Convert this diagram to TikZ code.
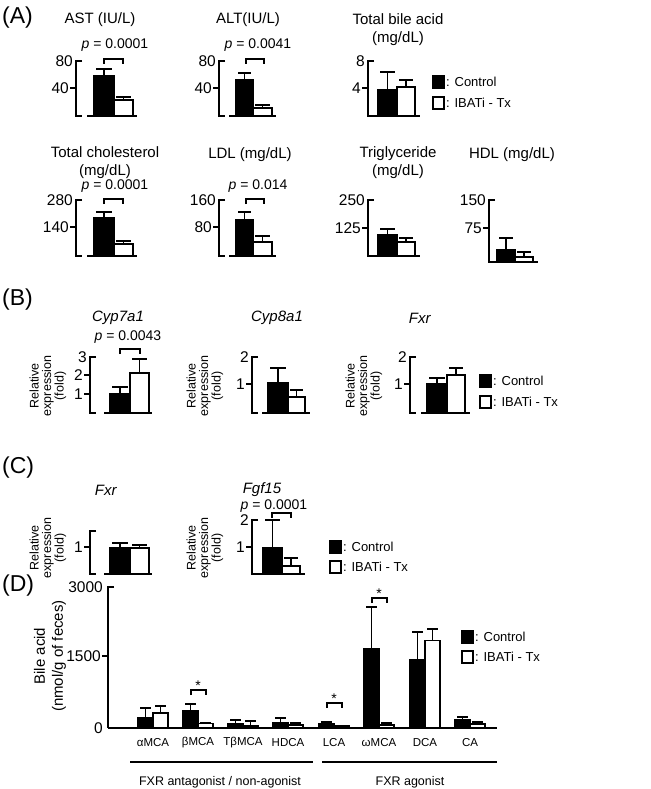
\documentclass[tikz,border=0pt]{standalone}
\usepackage{fontspec}
\setmainfont{Liberation Sans}
\begin{document}
\begin{tikzpicture}[x=1pt,y=-1pt,
  ax/.style={line width=1.9pt},
  lab/.style={font=\fontsize{15.5}{16}\selectfont,inner sep=1pt},
  ttl/.style={font=\fontsize{15}{18}\selectfont,align=center,inner sep=0pt},
  pl/.style={font=\fontsize{14}{16}\selectfont,inner sep=0pt},
  big/.style={font=\fontsize{23}{24}\selectfont,inner sep=0pt,anchor=west},
  rel/.style={font=\fontsize{12.5}{12.5}\selectfont,align=center,rotate=90,inner sep=0pt},
  leg/.style={font=\fontsize{13}{14}\selectfont,anchor=west,inner sep=0pt},
  cat/.style={font=\fontsize{11.5}{13}\selectfont,inner sep=0pt}]
\useasboundingbox (0,0) rectangle (650,789);
\fill[white] (0,0) rectangle (650,789);
% helpers
\newcommand\yax[3]{\draw[ax] (#1+6,#2)--(#1,#2)--(#1,#3)--(#1+6,#3);}
\newcommand\etk[3]{\node[lab,anchor=east] at (#1-2,#2) {#3};}
\newcommand\mtk[3]{\draw[ax] (#1,#2)--(#1-6,#2); \node[lab,anchor=east] at (#1-6,#2) {#3};}
\newcommand\base[3]{\draw[ax] (#1,#3)--(#2,#3);}
\newcommand\bbar[6]{\draw[line width=1.7pt,fill=#6] (#1,#3) rectangle (#2,#4);
  \draw[line width=1.9pt] ({(#1+#2)/2},#4)--({(#1+#2)/2},#5) (#1+2,#5)--(#2-2,#5);}
\newcommand\brk[3]{\draw[line width=1.7pt] (#1,#3+5)--(#1,#3)--(#2,#3)--(#2,#3+5);}
\newcommand\legend[3]{\draw[line width=1.5pt,fill=black] (#1,#2-6) rectangle (#1+11,#2+6);
  \node[leg] at (#1+13,#2) {: Control};
  \draw[line width=1.5pt,fill=white] (#1,#3-6) rectangle (#1+11,#3+6);
  \node[leg] at (#1+13,#3) {: IBATi - Tx};}
% ===== (A) =====
\node[big] (pA) at (2,18) {(A)};
\node[ttl] (t1) at (100,20) {AST (IU/L)};
\node[pl] (p1) at (115,45) {\textit{p} = 0.0001};
\yax{76}{61}{116}\etk{76}{61}{80}\mtk{76}{88}{40}
\base{87}{137}{116}
\bbar{94}{114}{116}{76}{69}{black}\bbar{114}{133}{116}{100}{97}{white}
\brk{104}{123}{59}
\node[ttl] (t2) at (248,20) {ALT(IU/L)};
\node[pl] (p2) at (258,45) {\textit{p} = 0.0041};
\yax{219}{61}{116}\etk{219}{61}{80}\mtk{219}{88}{40}
\base{229}{276}{116}
\bbar{236}{253}{116}{80}{73}{black}\bbar{253}{272}{116}{108}{105}{white}
\brk{246}{264}{59}
\node[ttl] (t3) at (398,30) {Total bile acid\\(mg/dL)};
\yax{368}{61}{116}\etk{368}{61}{8}\mtk{368}{88}{4}
\base{374}{420}{116}
\bbar{378}{397}{116}{90}{72}{black}\bbar{397}{415}{116}{87}{80}{white}
\legend{433}{82}{103}
% row 2
\node[ttl] (t4) at (105,163) {Total cholesterol\\(mg/dL)};
\node[pl] (p4) at (115,186) {\textit{p} = 0.0001};
\yax{76}{200}{256}\etk{76}{200}{280}\mtk{76}{227}{140}
\base{87}{137}{256}
\bbar{94}{114}{256}{218}{212}{black}\bbar{114}{133}{256}{244}{241}{white}
\brk{104}{123}{199}
\node[ttl] (t5) at (250,155) {LDL (mg/dL)};
\node[pl] (p5) at (258,186) {\textit{p} = 0.014};
\yax{219}{200}{256}\etk{219}{200}{160}\mtk{219}{227}{80}
\base{229}{276}{256}
\bbar{236}{253}{256}{220}{212}{black}\bbar{253}{272}{256}{242}{236}{white}
\brk{246}{264}{199}
\node[ttl] (t6) at (398,163) {Triglyceride\\(mg/dL)};
\yax{368}{200}{256}\etk{368}{200}{250}\mtk{368}{228}{125}
\base{374}{420}{256}
\bbar{378}{397}{256}{235}{229}{black}\bbar{397}{415}{256}{242}{238}{white}
\node[ttl] (t7) at (512,155) {HDL (mg/dL)};
\yax{489}{200}{262}\etk{489}{200}{150}\mtk{489}{228}{75}
\base{494}{538}{262}
\bbar{497}{515}{262}{250}{238}{black}\bbar{515}{533}{262}{257}{252}{white}
% ===== (B) =====
\node[big] (pB) at (2,300) {(B)};
\node[ttl] (t8) at (118,318) {\textit{Cyp7a1}};
\node[pl] (p8) at (128,337) {\textit{p} = 0.0043};
\node[rel] (r1) at (48,386) {Relative\\expression\\(fold)};
\yax{90}{357}{413}\etk{90}{357}{3}\mtk{90}{375}{2}\mtk{90}{394}{1}
\base{104}{152}{413}
\bbar{110}{130}{413}{394}{387}{black}\bbar{130}{149}{413}{373}{359}{white}
\brk{120}{140}{349}
\node[ttl] (t9) at (277,318) {\textit{Cyp8a1}};
\node[rel] (r2) at (205,386) {Relative\\expression\\(fold)};
\yax{252}{357}{413}\etk{252}{357}{2}\mtk{252}{384}{1}
\base{262}{310}{413}
\bbar{268}{288}{413}{383}{368}{black}\bbar{288}{305}{413}{397}{390}{white}
\node[ttl] (t10) at (420,318) {\textit{Fxr}};
\node[rel] (r3) at (364,386) {Relative\\expression\\(fold)};
\yax{410}{357}{413}\etk{410}{357}{2}\mtk{410}{384}{1}
\base{421}{470}{413}
\bbar{427}{447}{413}{384}{378}{black}\bbar{447}{465}{413}{375}{368}{white}
\legend{480}{381}{402}
% ===== (C) =====
\node[big] (pC) at (2,468) {(C)};
\node[ttl] (t11) at (106,490) {\textit{Fxr}};
\node[rel] (r4) at (48,548) {Relative\\expression\\(fold)};
\yax{90}{531}{574}\mtk{90}{547}{1}
\base{104}{152}{574}
\bbar{110}{130}{574}{548}{543}{black}\bbar{130}{149}{574}{548}{545}{white}
\node[ttl] (t12) at (262,490) {\textit{Fgf15}};
\node[pl] (p12) at (274,506) {\textit{p} = 0.0001};
\node[rel] (r5) at (205,548) {Relative\\expression\\(fold)};
\yax{252}{520}{574}\etk{252}{520}{2}\mtk{252}{547}{1}
\base{257}{305}{574}
\bbar{263}{282}{574}{548}{520}{black}\bbar{282}{300}{574}{566}{558}{white}
\brk{272}{291}{513}
\legend{330}{547}{567}
% ===== (D) =====
\node[big] (pD) at (2,586) {(D)};
\node[ttl,rotate=90] (yl) at (50,656) {Bile acid\\(nmol/g of feces)};
\draw[ax] (108+6,587)--(108,587)--(108,728);
\draw[ax] (108,656)--(102,656);
\node[lab,anchor=east] at (104,587) {3000};
\node[lab,anchor=east] at (102,656) {1500};
\node[lab,anchor=east] at (104,728) {0};
\draw[ax] (108,728)--(497,728);
\foreach \c/\nm/\bh/\be/\wh/\we [count=\i] in
 {153/αMCA/220/430/320/480, 198/βMCA/370/520/100/100, 243/TβMCA/80/180/50/150,
  288/HDCA/120/210/60/110, 334/LCA/80/130/40/50, 379/ωMCA/1720/2630/60/100,
  425/DCA/1470/2080/1900/2150, 470/CA/180/240/80/130}{
  \pgfmathsetmacro\bt{728-\bh/21.7}\pgfmathsetmacro\bet{728-\be/21.7}
  \pgfmathsetmacro\wt{728-\wh/21.7}\pgfmathsetmacro\wet{728-\we/21.7}
  \bbar{\c-15}{\c}{728}{\bt}{\bet}{black}
  \bbar{\c}{\c+15}{728}{\wt}{\wet}{white}
  \node[cat] (c\i) at (\c,743) {\nm};
}
\brk{191}{206}{690}\node[pl] (s1) at (198,686) {*};
\brk{327}{342}{703}\node[pl] (s2) at (334,699) {*};
\brk{372}{387}{598}\node[pl] (s3) at (379,594) {*};
\draw[line width=1.9pt] (130,762)--(313,762) (322,762)--(497,762);
\node[cat,font=\fontsize{12.5}{14}\selectfont] (g1) at (220,782) {FXR antagonist / non-agonist};
\node[cat,font=\fontsize{12.5}{14}\selectfont] (g2) at (410,782) {FXR agonist};
\legend{462}{637}{657}
\end{tikzpicture}
\end{document}
